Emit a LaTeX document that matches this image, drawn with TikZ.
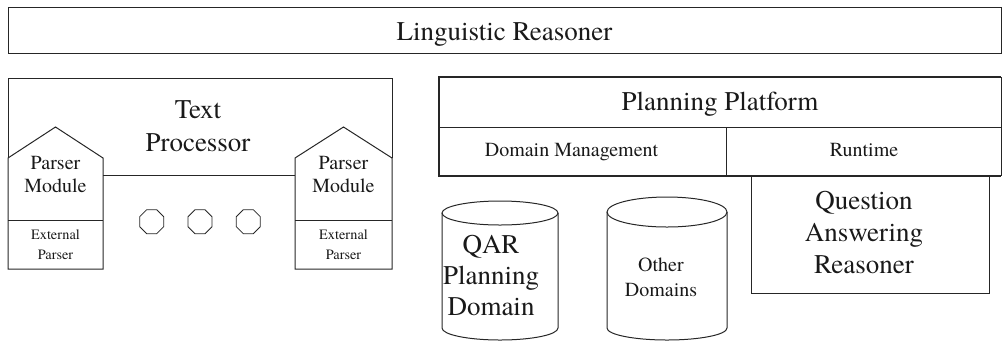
\documentclass[tikz,border=0pt]{standalone}
\usepackage{fontspec}
\setmainfont{texgyretermes-regular.otf}
\usetikzlibrary{shapes.geometric}
\begin{document}
\begin{tikzpicture}[x=1pt,y=-1pt,
  line/.style={draw=black!85, line width=1pt},
  heavy/.style={draw=black!85, line width=2pt},
  label/.style={inner sep=0pt, align=center, text=black!90},
  knob/.style={regular polygon, regular polygon sides=8, minimum size=26pt,
               inner sep=0pt, draw=black!85, line width=0.8pt}]
\useasboundingbox (0,0) rectangle (1003,341);

% Linguistic Reasoner frame
\draw[line] (8,7) rectangle (1001,53);
\node[label, font=\fontsize{27}{32}\selectfont] (lr) at (504.5,34.1) {\strut Linguistic Reasoner};

% Text Processor with its two parser modules
\draw[line] (103,175) -- (295,175);
\draw[line] (8,158) -- (8,78) -- (392,78) -- (392,158);
\node[label, font=\fontsize{27}{33}\selectfont] (tp) at (198,127.9) {\strut Text\\\strut Processor};

\draw[line] (8,158) -- (55.5,127) -- (103,158) -- (103,269) -- (8,269) -- cycle;
\draw[line] (8,220) -- (103,220);
\draw[line] (295,158) -- (343.5,127) -- (392,158) -- (392,269) -- (295,269) -- cycle;
\draw[line] (295,220) -- (392,220);

\node[label, font=\fontsize{20}{23}\selectfont] (pmL) at (55.5,175.9) {\strut Parser\\\strut Module};
\node[label, font=\fontsize{20}{23}\selectfont] (pmR) at (343.5,175.9) {\strut Parser\\\strut Module};
\node[label, font=\fontsize{14.3}{20}\selectfont] (epL) at (55.5,245) {\strut External\\\strut Parser};
\node[label, font=\fontsize{14.3}{20}\selectfont] (epR) at (343.5,245) {\strut External\\\strut Parser};

\node[knob] (k1) at (151.7,221.7) {};
\node[knob] (k2) at (200,221.7) {};
\node[knob] (k3) at (248.3,221.7) {};

% Planning Platform
\draw[heavy] (1001,77) -- (439,77) -- (439,176) -- (1001,176);
\draw[line] (1001,77) -- (1001,176);
\draw[line] (439,127) -- (1001,127);
\draw[line] (726,127) -- (726,176);
\node[label, font=\fontsize{27}{32}\selectfont] (pp) at (720,103.6) {\strut Planning Platform};
\node[label, font=\fontsize{20}{24}\selectfont] (dm) at (571.5,151.2) {\strut Domain Management};
\node[label, font=\fontsize{20}{24}\selectfont] (rt) at (864,151.2) {\strut Runtime};

% Question Answering Reasoner
\draw[line] (751,176) rectangle (989,293);
\node[label, font=\fontsize{27}{32}\selectfont] (qa) at (864,234.6) {\strut Question\\\strut Answering\\\strut Reasoner};

% Domain stores
\draw[line] (500,213) ellipse[x radius=58pt, y radius=12pt];
\draw[line] (442,213) -- (442,328) arc[start angle=180, end angle=360, x radius=58pt, y radius=12pt] -- (558,213);
\node[label, font=\fontsize{27}{31}\selectfont] (qard) at (491,277.8) {\strut QAR\\\strut Planning\\\strut Domain};

\draw[line] (667,212) ellipse[x radius=60pt, y radius=15pt];
\draw[line] (607,212) -- (607,328) arc[start angle=180, end angle=360, x radius=60pt, y radius=12pt] -- (727,212);
\node[label, font=\fontsize{20}{25}\selectfont] (od) at (661,278.5) {\strut Other\\\strut Domains};
\end{tikzpicture}
\end{document}
